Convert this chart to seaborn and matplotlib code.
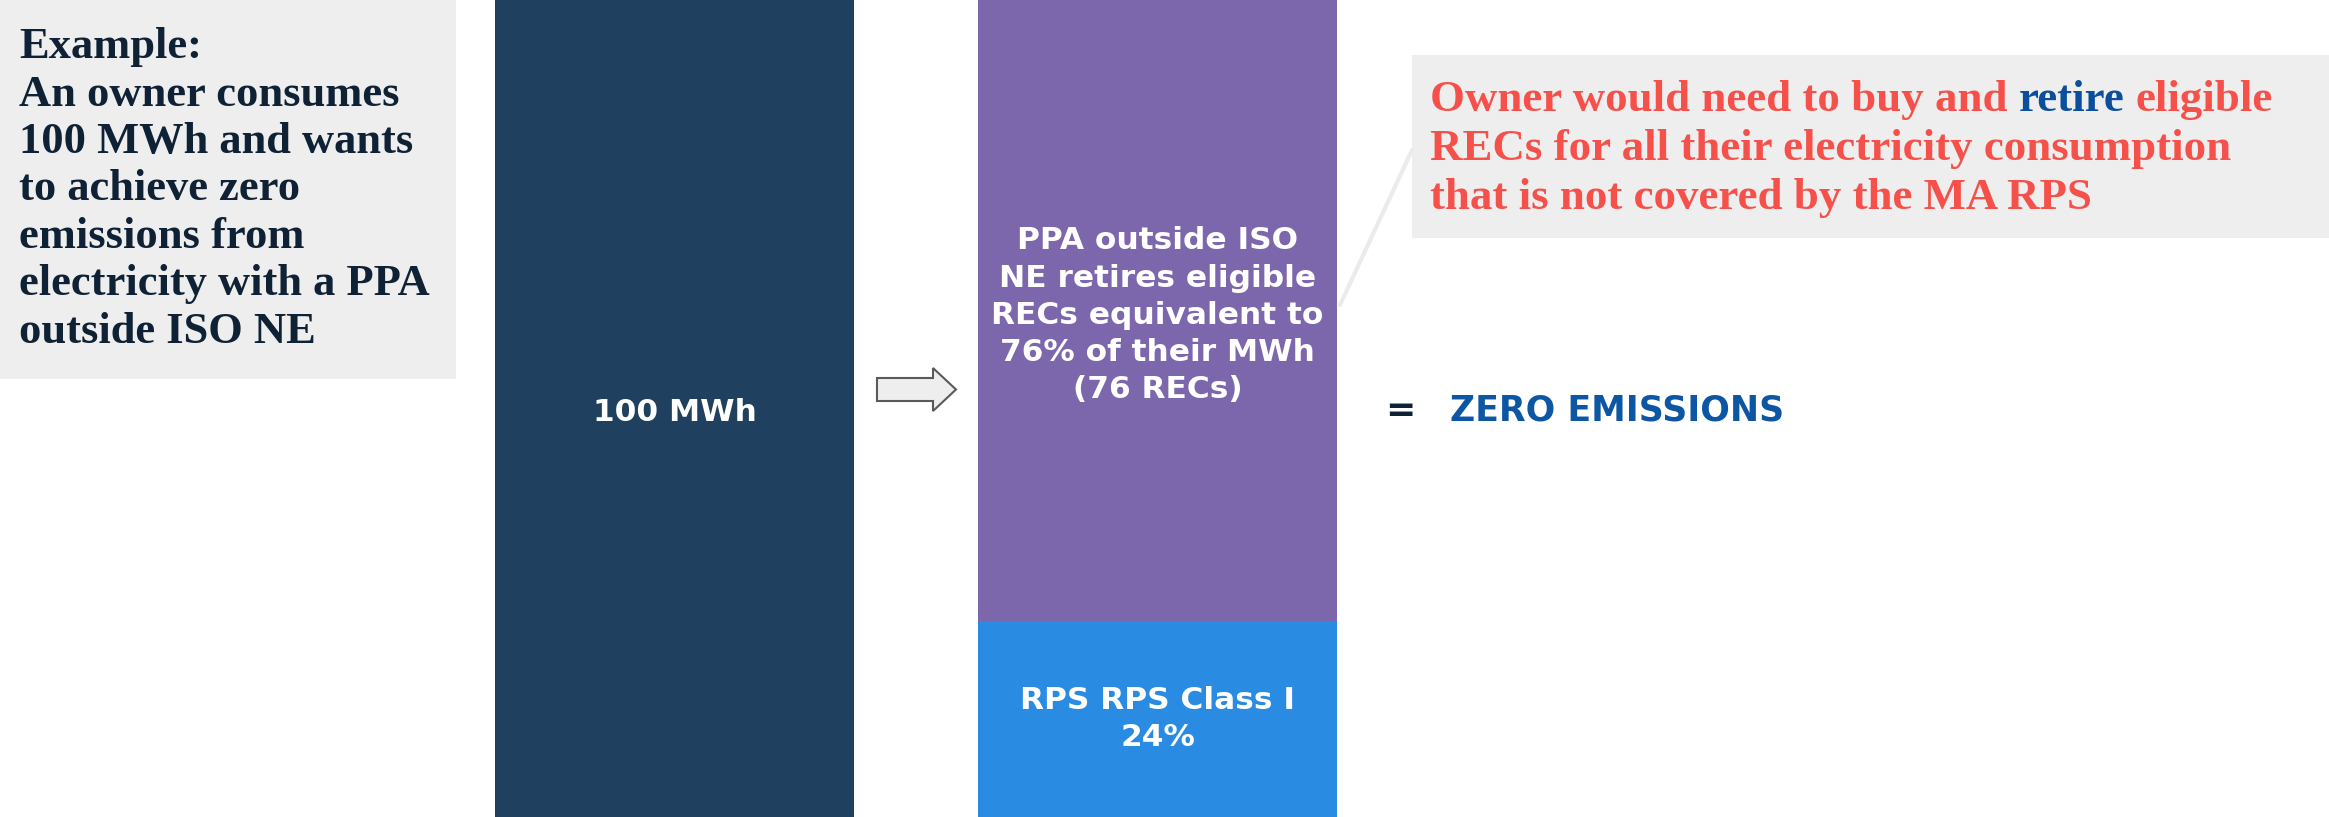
import matplotlib
matplotlib.use('Agg')
import matplotlib.pyplot as plt
from matplotlib import transforms, patches, lines
import seaborn as sns

# canvas size in pixels (dpi 100)
W, H = 2329, 817

# data
bar_names = ["Consumption", "Procurement"]
consumption_mwh = 100
ppa_share = 76
rps_share = 24

consumption_label = "100 MWh"
ppa_label = "PPA outside ISO\nNE retires eligible\nRECs equivalent to\n76% of their MWh\n(76 RECs)"
rps_label = "RPS RPS Class I\n24%"
example_lines = ["Example:", "An owner consumes", "100 MWh and wants",
                 "to achieve zero", "emissions from",
                 "electricity with a PPA", "outside ISO NE"]
callout_lines = [[("Owner would need to buy and", "red"), ("retire", "blue"), ("eligible", "red")],
                 [("RECs for all their electricity consumption", "red")],
                 [("that is not covered by the MA RPS", "red")]]
result_label = "ZERO EMISSIONS"

DARK = "#1F405E"
PURPLE = "#7D67AC"
BLUE = "#298BE2"
GREY = "#EEEEEE"
NAVY = "#0F2235"
RED = "#F5514A"
ROYAL = "#0B4F9C"
colors = {"red": RED, "blue": ROYAL}

sns.set_theme(style="white")
plt.rcParams['font.family'] = ['DejaVu Sans']

fig = plt.figure(figsize=(W / 100, H / 100), dpi=100)
ax = fig.add_axes([0, 0, 1, 1])

# full height bars, then the RPS part over the bottom of the second one
sns.barplot(x=bar_names, y=[consumption_mwh, ppa_share + rps_share], hue=bar_names,
            palette=[DARK, PURPLE], saturation=1, width=0.745, linewidth=0,
            legend=False, ax=ax)
sns.barplot(x=bar_names, y=[0, rps_share], color=BLUE, saturation=1,
            width=0.745, linewidth=0, ax=ax)

ax.set_xlim(-674.5 / 483, (W - 674.5) / 483)
ax.set_ylim(0, consumption_mwh)
ax.set_axis_off()

lab = dict(color="white", fontsize=22.5, fontweight="bold", ha="center", va="center")
ax.text(0, consumption_mwh / 2 - 0.5, consumption_label, **lab)
ax.text(1, rps_share + ppa_share / 2 - 0.6, ppa_label, linespacing=1.36, **lab)
ax.text(1, rps_share / 2, rps_label, linespacing=1.36, **lab)

# pixel coordinates, origin top-left
px = transforms.Affine2D().scale(1 / W, -1 / H).translate(0, 1) + fig.transFigure

# example box
fig.add_artist(patches.Rectangle((0, 0), 456, 379, transform=px, fc=GREY, ec="none"))
for i, line in enumerate(example_lines):
    fig.text(19, 58 + i * 47.5, line, transform=px, color=NAVY, fontsize=32,
             fontweight="bold", family="Liberation Serif", va="baseline")

# arrow between bars
fig.add_artist(patches.FancyArrow(877, 389.5, 79, 0, width=23, head_width=43,
                                  head_length=23, length_includes_head=True,
                                  transform=px, fc=GREY, ec="#5A5A5A", lw=1.5))

# callout
fig.add_artist(lines.Line2D([1340, 1412], [305, 150], transform=px, color="#EBEBEB", lw=3))
fig.add_artist(patches.Rectangle((1412, 55), W - 1412, 183, transform=px, fc=GREY, ec="none"))

fig.canvas.draw()
renderer = fig.canvas.get_renderer()
cfont = dict(fontsize=32.3, fontweight="bold", family="Liberation Serif", va="baseline")
t1 = fig.text(0, 0, "a a", **cfont)
t2 = fig.text(0, 0, "aa", **cfont)
space = t1.get_window_extent(renderer).width - t2.get_window_extent(renderer).width
t1.remove()
t2.remove()
for i, parts in enumerate(callout_lines):
    x = 1430
    for s, c in parts:
        t = fig.text(x, 111 + i * 49, s, transform=px, color=colors[c], **cfont)
        x += t.get_window_extent(renderer).width + space

# result
fig.text(1400, 411, "=", transform=px, color=NAVY, fontsize=26, fontweight="bold",
         ha="center", va="center")
fig.text(1450, 411, result_label, transform=px, color="#0C56A4", fontsize=25,
         fontweight="bold", va="center")

fig.savefig("out.png", dpi=100)
